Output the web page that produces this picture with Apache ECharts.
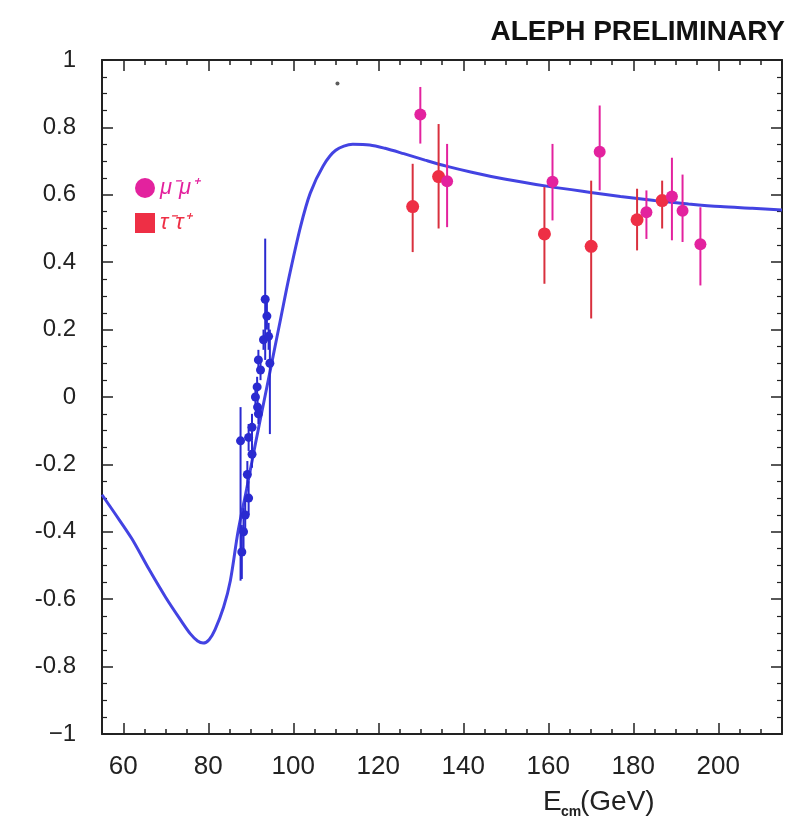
<!DOCTYPE html>
<html>
<head>
<meta charset="utf-8">
<script src="https://cdn.jsdelivr.net/npm/echarts@6/dist/echarts.min.js"></script>
<style>
html,body{margin:0;padding:0;background:#fff;}
#chart{width:804px;height:826px;}
</style>
</head>
<body>
<div id="chart"></div>
<script>
// ---- Data ----
const curveE = [55, 58, 62, 66, 70, 73.4, 75.8, 77.5, 78.8, 80.2, 81.6, 83.6, 85.2, 87, 89, 91, 93, 95, 97, 99, 101.7, 104, 107, 110, 114, 118, 121.6, 126, 131, 136, 142, 150, 160, 170, 177, 185, 193, 200.5, 208, 215];
const curveA = [-0.29, -0.345, -0.42, -0.51, -0.595, -0.66, -0.703, -0.724, -0.73, -0.72, -0.69, -0.624, -0.545, -0.40, -0.275, -0.145, -0.02, 0.105, 0.23, 0.355, 0.505, 0.605, 0.685, 0.732, 0.75, 0.748, 0.738, 0.722, 0.703, 0.685, 0.667, 0.646, 0.625, 0.607, 0.595, 0.583, 0.573, 0.565, 0.56, 0.555];

// LEP1 (Z pole) points
const zE  = [87.6, 87.9, 88.3, 88.7, 89.2, 89.5, 89.5, 90.3, 90.3, 91.1, 91.5, 91.6, 91.8, 91.8, 92.3, 93.0, 93.4, 93.8, 94.2, 94.5];
const zA  = [-0.13, -0.46, -0.40, -0.35, -0.23, -0.30, -0.12, -0.17, -0.09, 0.0, 0.03, -0.03, -0.05, 0.11, 0.08, 0.17, 0.29, 0.24, 0.18, 0.10];
const zLo = [-0.545, -0.54, -0.47, -0.40, -0.27, -0.35, -0.16, -0.21, -0.13, -0.03, 0.0, -0.06, -0.08, 0.08, 0.05, 0.14, 0.11, 0.20, 0.14, -0.11];
const zHi = [-0.03, -0.38, -0.33, -0.30, -0.19, -0.25, -0.08, -0.13, -0.05, 0.03, 0.06, 0.0, -0.02, 0.14, 0.11, 0.20, 0.47, 0.28, 0.22, 0.20];

// mu+mu- (LEP2)
const muE  = [129.9, 136.2, 161.0, 172.1, 183.1, 189.1, 191.6, 195.8];
const muA  = [0.838, 0.640, 0.639, 0.728, 0.548, 0.595, 0.553, 0.453];
const muLo = [0.752, 0.504, 0.524, 0.613, 0.469, 0.465, 0.46, 0.331];
const muHi = [0.92, 0.751, 0.751, 0.865, 0.613, 0.71, 0.66, 0.563];

// tau+tau- (LEP2)
const tauE  = [128.1, 134.2, 159.1, 170.1, 180.9, 186.8];
const tauA  = [0.565, 0.654, 0.484, 0.447, 0.526, 0.583];
const tauLo = [0.43, 0.50, 0.336, 0.233, 0.435, 0.50];
const tauHi = [0.692, 0.81, 0.623, 0.642, 0.618, 0.642];

// stray mark in the original figure
const strayE = [110.4];
const strayA = [0.93];

// Tick values
const xMajorTicks = [60, 80, 100, 120, 140, 160, 180, 200];
const xMinorTicks = [];
for (let v = 55; v <= 215; v += 5) xMinorTicks.push(v);
const yLabels = ['−1', '-0.8', '-0.6', '-0.4', '-0.2', '0', '0.2', '0.4', '0.6', '0.8', '1'];

const C_CURVE = '#4343e2';
const C_Z = '#2a2ad0';
const C_MU = '#e3229e';
const C_TAU = '#ee2f45';

function zip(a, b) { return a.map((v, i) => [v, b[i]]); }
function zip4(a, b, c, d) { return a.map((v, i) => [v, b[i], c[i], d[i]]); }

function errRenderer(color) {
  return function (params, api) {
    const x = api.value(0);
    const p1 = api.coord([x, api.value(2)]);
    const p2 = api.coord([x, api.value(3)]);
    return {
      type: 'line',
      shape: { x1: p1[0], y1: p1[1], x2: p2[0], y2: p2[1] },
      style: { stroke: color, lineWidth: 2 }
    };
  };
}

const FONT = 'Liberation Sans, Arial, sans-serif';
const axisLineStyle = { color: '#222', width: 2 };

function xAxisDef(pos, ticks, len, showLine, showLabels) {
  return {
    type: 'value', position: pos, min: 55, max: 215,
    axisLine: { show: showLine, onZero: false, lineStyle: axisLineStyle },
    axisTick: { show: true, inside: true, length: len, customValues: ticks, lineStyle: { color: '#222', width: 1.5 } },
    axisLabel: showLabels ? { show: true, customValues: xMajorTicks, margin: 20, fontSize: 26, color: '#222', fontFamily: FONT } : { show: false },
    splitLine: { show: false }
  };
}
function yAxisDef(pos, showLabels) {
  return {
    type: 'value', position: pos, min: -1, max: 1, interval: 0.2,
    axisLine: { show: true, onZero: false, lineStyle: axisLineStyle },
    axisTick: { show: true, inside: true, length: 11, lineStyle: { color: '#222', width: 1.5 } },
    minorTick: { show: true, splitNumber: 4, length: 5, lineStyle: { color: '#222', width: 1.2 } },
    axisLabel: showLabels ? {
      show: true, margin: 26, fontSize: 24, color: '#222', fontFamily: FONT,
      formatter: function (v) { const i = Math.round((v + 1) / 0.2); return yLabels[i]; }
    } : { show: false },
    splitLine: { show: false }
  };
}

const chart = echarts.init(document.getElementById('chart'), null, { renderer: 'canvas' });
const option = {
  animation: false,
  backgroundColor: '#fff',
  grid: { left: 102, right: 22, top: 60, bottom: 92, containLabel: false },
  xAxis: [
    xAxisDef('bottom', xMinorTicks, 5, true, true),
    xAxisDef('bottom', xMajorTicks, 11, false, false),
    xAxisDef('top', xMinorTicks, 5, true, false),
    xAxisDef('top', xMajorTicks, 11, false, false)
  ],
  yAxis: [yAxisDef('left', true), yAxisDef('right', false)],
  legend: {
    orient: 'vertical', left: 130, top: 172, itemWidth: 20, itemHeight: 20, itemGap: 13,
    textStyle: { fontSize: 22, fontStyle: 'italic', fontFamily: FONT },
    data: [
      { name: 'μ⁻μ⁺', icon: 'circle', textStyle: { color: C_MU } },
      { name: 'τ⁻τ⁺', icon: 'rect', textStyle: { color: C_TAU } }
    ]
  },
  graphic: [
    { type: 'text', right: 19, top: 18, style: { text: 'ALEPH PRELIMINARY', font: 'bold 28px ' + FONT, fill: '#111' } },
    { type: 'text', left: 543, top: 788, style: { text: 'E', font: '28px ' + FONT, fill: '#222' } },
    { type: 'text', left: 561, top: 805, style: { text: 'cm', font: 'bold 14px ' + FONT, fill: '#222' } },
    { type: 'text', left: 580, top: 788, style: { text: '(GeV)', font: '28px ' + FONT, fill: '#222' } }
  ],
  series: [
    {
      name: 'curve', type: 'line', smooth: 0.3, showSymbol: false, symbol: 'none',
      data: zip(curveE, curveA), lineStyle: { color: C_CURVE, width: 3 }, z: 3, silent: true
    },
    {
      name: 'zerr', type: 'custom', renderItem: errRenderer(C_Z), data: zip4(zE, zA, zLo, zHi), z: 4, silent: true
    },
    {
      name: 'Z', type: 'scatter', symbol: 'circle', symbolSize: 9, data: zip(zE, zA),
      itemStyle: { color: C_Z, opacity: 1 }, z: 5
    },
    {
      name: 'muerr', type: 'custom', renderItem: errRenderer(C_MU), data: zip4(muE, muA, muLo, muHi), z: 4, silent: true
    },
    {
      name: 'tauerr', type: 'custom', renderItem: errRenderer('#d9303e'), data: zip4(tauE, tauA, tauLo, tauHi), z: 4, silent: true
    },
    {
      name: 'τ⁻τ⁺', type: 'scatter', symbol: 'circle', symbolSize: 13, data: zip(tauE, tauA),
      itemStyle: { color: C_TAU, opacity: 1 }, z: 5
    },
    {
      name: 'μ⁻μ⁺', type: 'scatter', symbol: 'circle', symbolSize: 12, data: zip(muE, muA),
      itemStyle: { color: C_MU, opacity: 1 }, z: 6
    },
    {
      name: 'stray', type: 'scatter', symbol: 'circle', symbolSize: 4, data: zip(strayE, strayA),
      itemStyle: { color: '#333' }, z: 6
    }
  ]
};
chart.setOption(option);
</script>
</body>
</html>
